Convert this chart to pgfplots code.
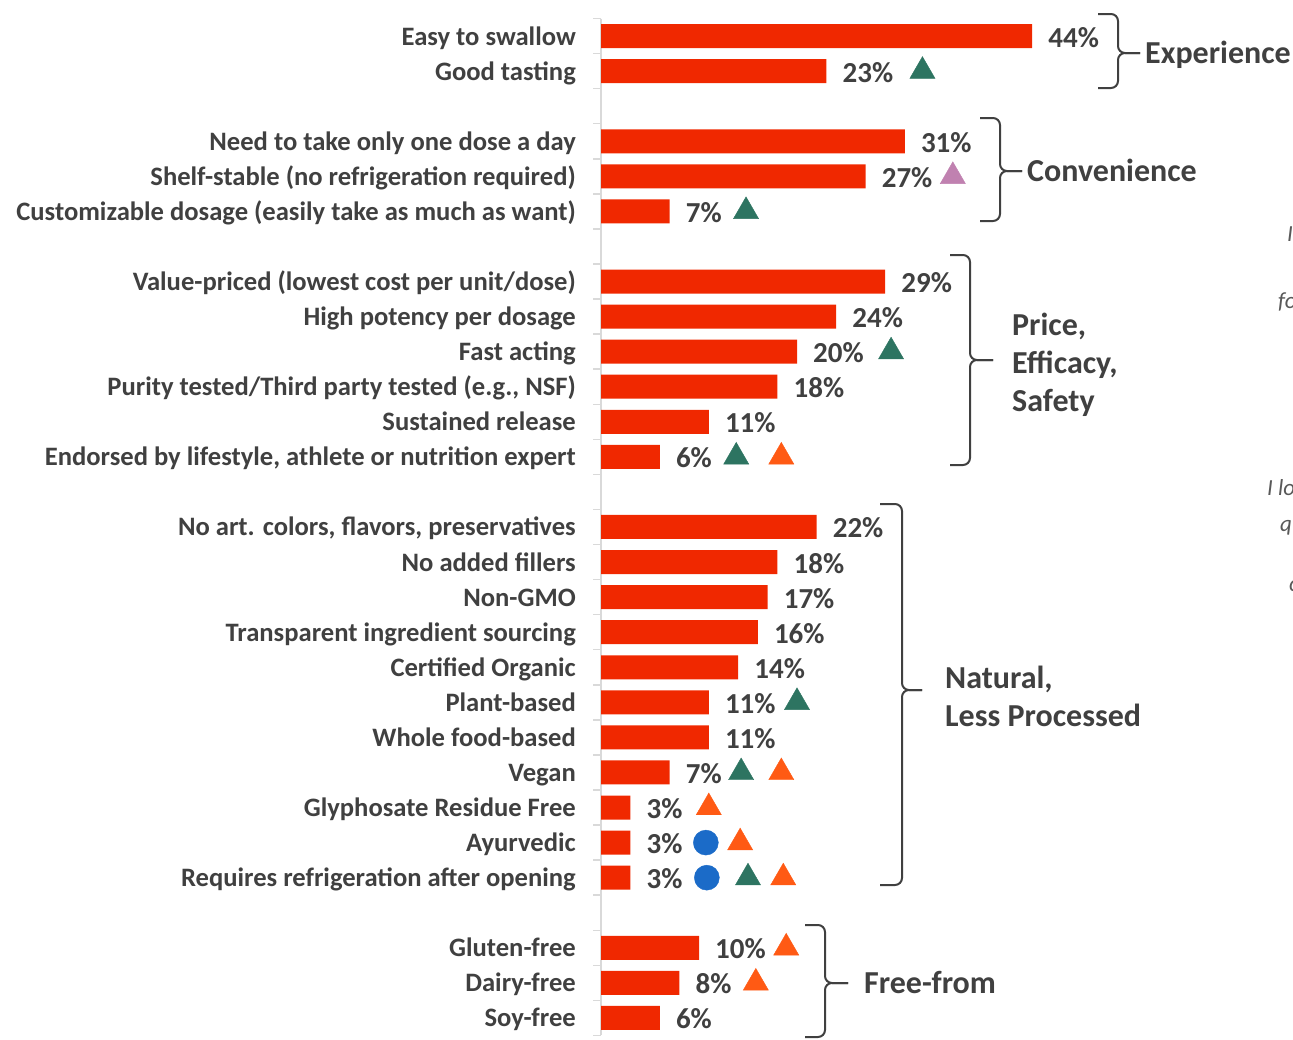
\documentclass[border=0pt]{standalone}
\usepackage{fontspec}
\setmainfont{Carlito}
\usepackage{pgfplots}
\pgfplotsset{compat=1.18}

\definecolor{barred}{RGB}{240,40,0}
\definecolor{txt}{RGB}{64,64,64}
\definecolor{note}{RGB}{89,89,89}
\definecolor{tgreen}{RGB}{45,116,97}
\definecolor{torange}{RGB}{255,90,20}
\definecolor{tblue}{RGB}{27,107,200}
\definecolor{tmauve}{RGB}{192,129,176}
\definecolor{axgray}{RGB}{217,217,217}

\begin{document}
\begin{tikzpicture}
\path[use as bounding box] (0,0) rectangle (1293bp,-1040bp);
\clip (0,0) rectangle (1293bp,-1040bp);

\begin{axis}[
  at={(601bp,-18.5bp)}, anchor=north west,
  scale only axis, width=588bp, height=1017bp,
  xmin=0, xmax=60, ymin=-0.5, ymax=28.5, y dir=reverse,
  axis x line=none, axis y line*=left,
  y axis line style={draw=axgray, line width=1.5bp},
  clip=false,
  /pgf/number format/assume math mode=true,
  ytick={0,...,28},
  yticklabels={
    {Easy to swallow},{Good tasting},{},
    {Need to take only one dose a day},
    {Shelf-stable (no refrigeration required)},
    {Customizable dosage (easily take as much as want)},{},
    {Value-priced (lowest cost per unit/dose)},
    {High potency per dosage},{Fast acting},
    {Purity tested/Third party tested (e.g., NSF)},
    {Sustained release},
    {Endorsed by lifestyle, athlete or nutrition expert},{},
    {No art. colors, flavors, preservatives},
    {No added fillers},{Non-GMO},{Transparent ingredient sourcing},
    {Certified Organic},{Plant-based},{Whole food-based},{Vegan},
    {Glyphosate Residue Free},{Ayurvedic},
    {Requires refrigeration after opening},{},
    {Gluten-free},{Dairy-free},{Soy-free}},
  major tick length=0pt,
  tick style={draw=axgray, line width=1.5bp},
  extra y ticks={-0.5,0.5,...,28.5},
  extra y tick labels={},
  extra y tick style={major tick length=8bp, tick align=outside},
  yticklabel style={font=\fontsize{26.6bp}{30bp}\selectfont\bfseries,
    text=txt, anchor=base east, inner sep=0pt, xshift=-25bp, yshift=-9bp},
]

% response shares (percent), one row per attribute; gap rows left empty
\addplot[xbar, bar width=24bp, fill=barred, draw=none,
  point meta=x,
  nodes near coords={\pgfmathprintnumber[assume math mode=true]{\pgfplotspointmeta}\%},
  every node near coord/.append style={font=\fontsize{29bp}{32bp}\selectfont\bfseries,
    text=txt, anchor=base west, inner sep=0pt, xshift=16bp, yshift=-11bp}]
coordinates {
  (44,0) (23,1)
  (31,3) (27,4) (7,5)
  (29,7) (24,8) (20,9) (18,10) (11,11) (6,12)
  (22,14) (18,15) (17,16) (16,17) (14,18) (11,19) (11,20) (7,21)
  (3,22) (3,23) (3,24)
  (10,26) (8,27) (6,28)
};

% significance markers
\addplot[only marks, mark=triangle*, mark size=14.5bp, color=tgreen]
coordinates {(32.8,1) (14.8,5) (29.6,9) (13.8,12) (20.0,19) (14.3,21) (15.0,24)};
\addplot[only marks, mark=triangle*, mark size=14.5bp, color=torange]
coordinates {(18.4,12) (18.4,21) (11.0,22) (14.2,23) (18.6,24) (18.9,26) (15.8,27)};
\addplot[only marks, mark=triangle*, mark size=14.5bp, color=tmauve]
coordinates {(35.9,4)};
\addplot[only marks, mark=*, mark size=12.5bp, color=tblue]
coordinates {(10.7,23) (10.8,24)};
\end{axis}

% group braces and group names
\begin{scope}[x=1bp, y=-1bp]
  \begin{scope}[draw=txt, line width=2bp, rounded corners=7bp]
    \draw (1098,14) -- (1118,14) -- (1118,53) -- (1140,53);
    \draw (1098,88) -- (1118,88) -- (1118,53) -- (1140,53);
    \draw (980,118) -- (1000,118) -- (1000,171) -- (1022,171);
    \draw (980,221) -- (1000,221) -- (1000,171) -- (1022,171);
    \draw (950,255) -- (970,255) -- (970,360) -- (993,360);
    \draw (950,465) -- (970,465) -- (970,360) -- (993,360);
    \draw (880,504) -- (902,504) -- (902,690) -- (922,690);
    \draw (880,885) -- (902,885) -- (902,690) -- (922,690);
    \draw (805,925) -- (825,925) -- (825,983) -- (848,983);
    \draw (805,1037) -- (825,1037) -- (825,983) -- (848,983);
  \end{scope}
  \begin{scope}[every node/.style={font=\fontsize{32bp}{38bp}\selectfont\bfseries,
      text=txt, anchor=base west, inner sep=0pt}]
    \node at (1145,63) {Experience};
    \node at (1027,181) {Convenience};
    \node at (1012,335) {Price,};
    \node at (1012,373) {Efficacy,};
    \node at (1012,411) {Safety};
    \node at (945,688) {Natural,};
    \node at (945,726) {Less Processed};
    \node at (864,993) {Free-from};
  \end{scope}
  \begin{scope}[every node/.style={font=\fontsize{23bp}{28bp}\selectfont\itshape,
      text=note, anchor=base west, inner sep=0pt}]
    \node at (1287,241) {I want};
    \node at (1278,308) {for};
    \node at (1267,495) {I look};
    \node at (1280,531) {quality};
    \node at (1289,591) {c};
  \end{scope}
\end{scope}
\end{tikzpicture}
\end{document}
